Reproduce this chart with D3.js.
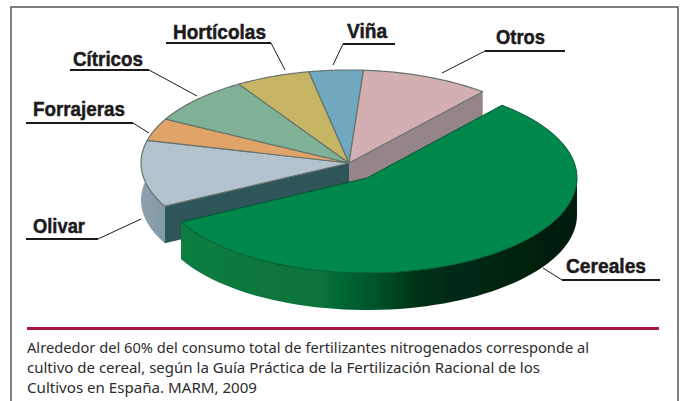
<!DOCTYPE html>
<html>
<head>
<meta charset="utf-8">
<script src="https://d3js.org/d3.v7.min.js"></script>
<style>
  html, body { margin: 0; padding: 0; background: #fff; }
  svg { display: block; }
</style>
</head>
<body>
<div id="viz"></div>
<script>
// shares, in percent, clockwise from the Cereales edge
const categories = ['Cereales', 'Olivar', 'Forrajeras', 'Cítricos', 'Hortícolas', 'Viña', 'Otros'];
const shares = [56.2, 11.6, 3.9, 8.3, 5.8, 4.2, 10];
const topColors = ['#02874b', '#b2c3ce', '#e0a468', '#7fb196', '#c6b565', '#6fa8bf', '#d3afb2'];
const captionLines = [
  'Alrededor del 60% del consumo total de fertilizantes nitrogenados corresponde al',
  'cultivo de cereal, según la Guía Práctica de la Fertilización Racional de los',
  'Cultivos en España. MARM, 2009'
];

const width = 682, height = 401;
const svg = d3.select('#viz').append('svg').attr('width', width).attr('height', height);

// pie is squashed into an ellipse, angle 0 is up
const main = {cx: 349, cy: 163, rx: 208, ry: 93, depth: 37};
const cereal = {cx: 367, cy: 178, rx: 210, ry: 95, depth: 37};

const pie = d3.pie().sort(null).startAngle(40 * Math.PI / 180).endAngle(400 * Math.PI / 180);
const arcs = pie(shares);

const pt = (g, a, dy = 0) => [g.cx + g.rx * Math.sin(a), g.cy - g.ry * Math.cos(a) + dy];

// top face of one slice as a path
function wedge(g, a0, a1) {
  const p = d3.path();
  const c = [g.cx, g.cy];
  p.moveTo(...c);
  d3.range(0, 61).forEach(i => p.lineTo(...pt(g, a0 + (a1 - a0) * i / 60)));
  p.closePath();
  return p.toString();
}

// outer wall between two angles
function wall(g, a0, a1) {
  const p = d3.path();
  d3.range(0, 61).forEach(i => {
    const q = pt(g, a0 + (a1 - a0) * i / 60);
    i ? p.lineTo(...q) : p.moveTo(...q);
  });
  d3.range(60, -1, -1).forEach(i => p.lineTo(...pt(g, a0 + (a1 - a0) * i / 60, g.depth)));
  p.closePath();
  return p.toString();
}

// flat wall along a cut edge, from centre out to the rim
function cut(g, a) {
  const o = pt(g, a);
  return `M${g.cx},${g.cy}L${o}L${o[0]},${o[1] + g.depth}L${g.cx},${g.cy + g.depth}Z`;
}

const defs = svg.append('defs');
defs.append('filter').attr('id', 'soft').append('feGaussianBlur').attr('stdDeviation', 0.7);

const cerealSide = defs.append('linearGradient').attr('id', 'cerealSide')
  .attr('gradientUnits', 'userSpaceOnUse')
  .attr('x1', 183).attr('x2', 577).attr('y1', 0).attr('y2', 0);
[[0, '#0a7d40'], [0.35, '#07733a'], [0.5, '#035029'], [0.6, '#013016'], [1, '#011a0c']]
  .forEach(s => cerealSide.append('stop').attr('offset', s[0]).attr('stop-color', s[1]));

const olivarSide = defs.append('linearGradient').attr('id', 'olivarSide')
  .attr('gradientUnits', 'userSpaceOnUse')
  .attr('x1', 141).attr('x2', 165).attr('y1', 0).attr('y2', 0);
[[0, '#8da1ad'], [1, '#8399a6']]
  .forEach(s => olivarSide.append('stop').attr('offset', s[0]).attr('stop-color', s[1]));

// frame, open at the bottom of the crop
svg.append('path')
  .attr('d', `M11,${height}V7H678V${height}`)
  .attr('fill', 'none').attr('stroke', '#555').attr('stroke-width', 1.5);

const pieG = svg.append('g').attr('filter', 'url(#soft)');

// main body walls first
const olivar = arcs[1], otros = arcs[6];
pieG.append('path').attr('d', wall(main, olivar.startAngle, olivar.endAngle)).attr('fill', 'url(#olivarSide)');
pieG.append('path').attr('d', cut(main, olivar.startAngle)).attr('fill', '#2f5458');
pieG.append('path').attr('d', cut(main, otros.endAngle)).attr('fill', '#958589');

// main body top faces
pieG.selectAll('.slice')
  .data(arcs.slice(1))
  .join('path')
  .attr('class', 'slice')
  .attr('d', d => wedge(main, d.startAngle, d.endAngle))
  .attr('fill', d => topColors[d.index])
  .attr('stroke', '#66736b')
  .attr('stroke-width', 1.2)
  .attr('stroke-linejoin', 'round');

// pulled out Cereales piece goes on top
const cer = arcs[0];
pieG.append('path').attr('d', wall(cereal, Math.PI / 2, cer.endAngle)).attr('fill', 'url(#cerealSide)');
pieG.append('path').attr('d', wedge(cereal, cer.startAngle, cer.endAngle))
  .attr('fill', topColors[0]).attr('stroke', '#01582f').attr('stroke-width', 1);

// labels: where each one sits, with its underline and leader
const labelLayout = {
  'Hortícolas': {x: 173, y: 39, w: 93, line: [[166, 43], [271, 43], [285, 70]]},
  'Cítricos': {x: 73, y: 66, w: 70, line: [[70, 70], [149, 70], [197, 96]]},
  'Forrajeras': {x: 33, y: 116, w: 92, line: [[26, 123], [133, 123], [149, 133]]},
  'Olivar': {x: 33, y: 233, w: 52, line: [[26, 239], [98, 239], [141, 219]]},
  'Viña': {x: 347, y: 38, w: 40, line: [[395, 44], [343, 44], [333, 65]]},
  'Otros': {x: 496, y: 44, w: 49, line: [[565, 51], [485, 51], [442, 73]]},
  'Cereales': {x: 566, y: 273, w: 80, line: [[660, 280], [562, 280], [543, 268]]}
};

const labels = svg.append('g').selectAll('g')
  .data(categories)
  .join('g');

labels.append('path')
  .attr('d', d => d3.line()(labelLayout[d].line))
  .attr('fill', 'none')
  .attr('stroke', '#1c1a1b')
  .attr('stroke-width', 1);

// the thick underline is the long run of each leader
labels.append('path')
  .attr('d', d => d3.line()(labelLayout[d].line.slice(0, 2)))
  .attr('stroke', '#1c1a1b')
  .attr('stroke-width', 2);

labels.append('text')
  .attr('x', d => labelLayout[d].x)
  .attr('y', d => labelLayout[d].y)
  .attr('textLength', d => labelLayout[d].w)
  .attr('lengthAdjust', 'spacingAndGlyphs')
  .attr('font-family', '"Liberation Sans Narrow", "Liberation Sans", sans-serif')
  .attr('font-weight', 700)
  .attr('font-size', 21)
  .attr('fill', '#1c1a1b')
  .attr('stroke', '#1c1a1b')
  .attr('stroke-width', 0.5)
  .text(d => d);

// caption under the red rule
svg.append('rect').attr('x', 27).attr('y', 327).attr('width', 632).attr('height', 3).attr('fill', '#a5173f');

const captionWidths = [562, 513, 230];
svg.append('g').selectAll('text')
  .data(captionLines)
  .join('text')
  .attr('x', 27)
  .attr('y', (d, i) => 353 + i * 20)
  .attr('textLength', (d, i) => captionWidths[i])
  .attr('lengthAdjust', 'spacingAndGlyphs')
  .attr('font-family', '"Noto Sans", "Open Sans", sans-serif')
  .attr('font-size', 15)
  .attr('fill', '#2b2b2b')
  .text(d => d);
</script>
</body>
</html>
